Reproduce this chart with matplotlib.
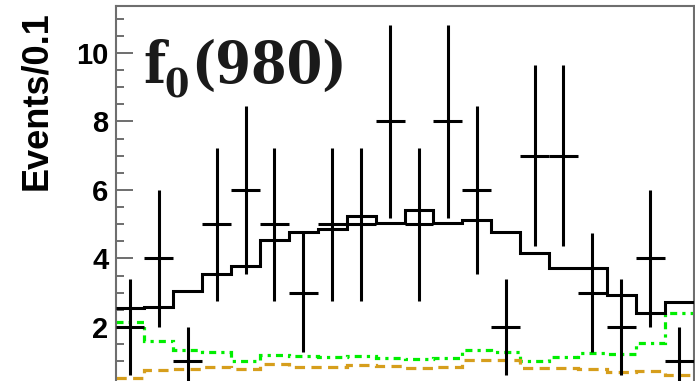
import matplotlib
matplotlib.use("Agg")
import matplotlib.pyplot as plt
import numpy as np

# cos(theta)-like binning, 20 bins of width 0.1
bin_edges = np.round(np.arange(-1.0, 1.0001, 0.1), 2)

# observed events per bin
data_counts = [2, 4, 1, 5, 6, 5, 3, 5, 5, 8, 5, 8, 6, 2, 7, 7, 3, 2, 4, 1]

# total fit (solid black)
fit_total = [2.55, 2.57, 3.05, 3.54, 3.78, 4.54, 4.76, 4.85, 5.24, 5.03,
             5.42, 5.03, 5.12, 4.76, 4.15, 3.71, 3.71, 2.93, 2.42, 2.72]

# background component (green dash-dot)
bkg_green = [2.16, 1.59, 1.33, 1.26, 1.01, 1.18, 1.16, 1.13, 1.15, 1.10,
             1.07, 1.09, 1.33, 1.28, 1.02, 1.13, 1.25, 1.20, 1.54, 2.42]

# background component (orange dashed)
bkg_orange = [0.50, 0.73, 0.78, 0.82, 0.77, 0.92, 0.84, 0.84, 0.89, 0.87,
              0.81, 0.84, 1.04, 1.04, 0.79, 0.79, 0.77, 0.70, 0.72, 0.60]

y_ticks = [2, 4, 6, 8, 10]

W, H = 695, 381
fig = plt.figure(figsize=(W / 100, H / 100), dpi=100)
# axes bottom lies below the picture (the reference is cropped there)
ax_left, ax_right, ax_top, ax_bottom = 115.5, 693.5, 6.0, 395.5
ax = fig.add_axes([ax_left / W, 1 - ax_bottom / H,
                   (ax_right - ax_left) / W, (ax_bottom - ax_top) / H])

centers = 0.5 * (bin_edges[:-1] + bin_edges[1:])
half_w = 0.5 * np.diff(bin_edges)
errs = np.sqrt(data_counts)

ax.stairs(bkg_green, bin_edges, baseline=None, color="#00ee00", lw=2.3,
          linestyle=(0, (2.2, 1.6, 1.0, 1.6)), zorder=2)
ax.stairs(bkg_orange, bin_edges, baseline=None, color="#d69e1c", lw=2.3,
          linestyle=(0, (3.2, 2.0)), zorder=2)
ax.stairs(fit_total, bin_edges, baseline=None, color="black", lw=2.2, zorder=3)
ax.errorbar(centers, data_counts, xerr=half_w, yerr=errs, fmt="none",
            ecolor="black", elinewidth=2.2, capsize=0, zorder=4)

ax.set_xlim(bin_edges[0], bin_edges[-1])
ax.set_ylim(0, 11.37)

ax.set_yticks(y_ticks)
ax.set_yticklabels([str(t) for t in y_ticks], fontsize=21,
                   fontweight="bold", family="Liberation Sans")
ax.set_yticks(np.arange(0.5, 11.3, 0.5), minor=True)
ax.tick_params(axis="y", which="major", direction="in", length=12.2,
               width=1.4, color="#6e6e6e", pad=5.0)
ax.tick_params(axis="y", which="minor", direction="in", length=5.8,
               width=1.4, color="#6e6e6e")
ax.tick_params(axis="x", which="both", bottom=False, labelbottom=False)

for s in ax.spines.values():
    s.set_color("#6e6e6e")
    s.set_linewidth(1.5)

fig.text(37 / W, 1 - 101 / H, "Events/0.1", rotation=90, ha="center",
         va="center", fontsize=26, fontweight="bold", family="Liberation Sans")

# f_0(980) label, built from three pieces so the subscript sits low like ROOT
serif = dict(family="DejaVu Serif", fontweight="bold", fontstretch="condensed",
             color="#1a1a1a")
renderer = fig.canvas.get_renderer()
t1 = fig.text(143 / W, 1 - 83 / H, "f", ha="left", va="baseline",
              fontsize=41, **serif)
x1 = t1.get_window_extent(renderer).x1
t2 = fig.text((x1 - 1) / W, 1 - 97 / H, "0", ha="left", va="baseline",
              fontsize=28, **serif)
x2 = t2.get_window_extent(renderer).x1
fig.text((x2 + 3) / W, 1 - 83 / H, "(980)", ha="left", va="baseline",
         fontsize=41, **serif)

fig.savefig("out.png", dpi=100)
